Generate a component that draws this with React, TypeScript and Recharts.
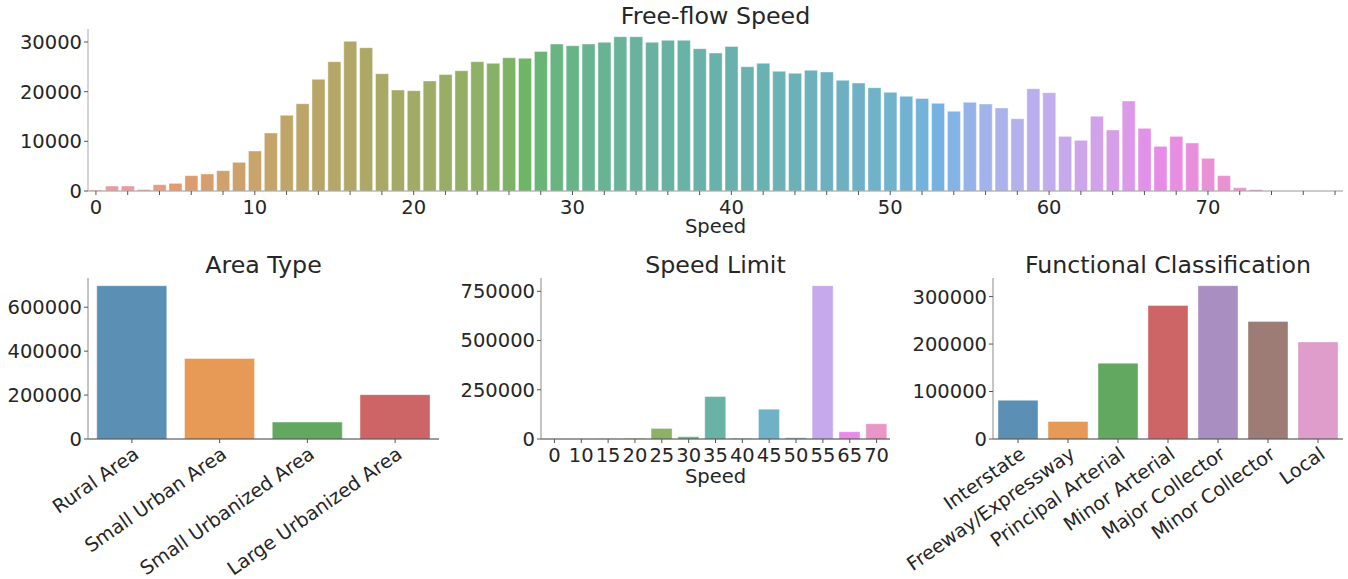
import React from 'react';
import { BarChart, Bar, XAxis, YAxis, Cell } from 'recharts';

const FONT = '"DejaVu Sans", "Liberation Sans", sans-serif';
const TEXT = '#262626';

// Free-flow speed histogram (count per speed value)
const freeFlowSpeeds = [
  0, 1, 2, 3, 4, 5, 6, 7, 8, 9, 10, 11, 12, 13, 14, 15, 16, 17, 18, 19,
  20, 21, 22, 23, 24, 25, 26, 27, 28, 29, 30, 31, 32, 33, 34, 35, 36, 37, 38, 39,
  40, 41, 42, 43, 44, 45, 46, 47, 48, 49, 50, 51, 52, 53, 54, 55, 56, 57, 58, 59,
  60, 61, 62, 63, 64, 65, 66, 67, 68, 69, 70, 71, 72, 73, 74, 75, 76, 77, 78,
];
const freeFlowCounts = [
  200, 1000, 1000, 300, 1270, 1540, 3090, 3420, 4090, 5770,
  8050, 11680, 15230, 17580, 22480, 26040, 30130, 28860, 23620, 20330,
  20200, 22150, 23450, 24220, 26040, 25700, 26840, 26710, 28110, 29590,
  29260, 29590, 29930, 31070, 31070, 29930, 30330, 30330, 28650, 27780,
  29120, 25030, 25700, 24090, 23690, 24290, 23960, 22280, 21740, 20800,
  19860, 19060, 18650, 17650, 16040, 17850, 17510, 16710, 14560, 20600,
  19790, 11000, 10200, 15030, 12280, 18120, 12620, 8990, 11000, 9660,
  6580, 3090, 670, 270, 0, 0, 0, 0, 0,
];
const freeFlowTicks = [0, 10000, 20000, 30000];

const areaTypes = ['Rural Area', 'Small Urban Area', 'Small Urbanized Area', 'Large Urbanized Area'];
const areaCounts = [698000, 366500, 76900, 202000];
const areaTicks = [0, 200000, 400000, 600000];

const speedLimits = ['0', '10', '15', '20', '25', '30', '35', '40', '45', '50', '55', '65', '70'];
const speedLimitCounts = [200, 300, 800, 3000, 53800, 11800, 215300, 3400, 151400, 6700, 778800, 37000, 77400];
const speedLimitTicks = [0, 250000, 500000, 750000];

const funcClasses = [
  'Interstate', 'Freeway/Expressway', 'Principal Arterial', 'Minor Arterial',
  'Major Collector', 'Minor Collector', 'Local',
];
const funcCounts = [81600, 37000, 159800, 281200, 323000, 247700, 204400];
const funcTicks = [0, 100000, 200000, 300000];

const TAB10 = ['#1f77b4', '#ff7f0e', '#2ca02c', '#d62728', '#9467bd', '#8c564b', '#e377c2'];

// --- colour helpers (husl palette + seaborn-style desaturation) ---
const M = [
  [3.240969941904521, -1.537383177570093, -0.498610760293],
  [-0.96924363628087, 1.87596750150772, 0.041555057407175],
  [0.055630079696993, -0.20397695888897, 1.056971514242878],
];
const KAPPA = 903.2962962;
const EPS = 0.0088564516;
const REF_U = 0.19783000664283;
const REF_V = 0.46831999493879;

function maxChroma(L: number, H: number) {
  const hrad = (H / 360) * 2 * Math.PI;
  const sub1 = Math.pow(L + 16, 3) / 1560896;
  const sub2 = sub1 > EPS ? sub1 : L / KAPPA;
  let best = Infinity;
  for (const [m1, m2, m3] of M) {
    for (const t of [0, 1]) {
      const top1 = (284517 * m1 - 94839 * m3) * sub2;
      const top2 = (838422 * m3 + 769860 * m2 + 731718 * m1) * L * sub2 - 769860 * t * L;
      const bottom = (632260 * m3 - 126452 * m2) * sub2 + 126452 * t;
      const len = top2 / bottom / (Math.sin(hrad) - (top1 / bottom) * Math.cos(hrad));
      if (len >= 0) best = Math.min(best, len);
    }
  }
  return best;
}

function fromLinear(c: number) {
  const v = c <= 0.0031308 ? 12.92 * c : 1.055 * Math.pow(c, 1 / 2.4) - 0.055;
  return Math.min(1, Math.max(0, v));
}

function huslToRgb(H: number, S: number, L: number): number[] {
  const C = (maxChroma(L, H) / 100) * S;
  const hrad = (H / 180) * Math.PI;
  const U = C * Math.cos(hrad);
  const V = C * Math.sin(hrad);
  const Y = L <= 8 ? L / KAPPA : Math.pow((L + 16) / 116, 3);
  const varU = U / (13 * L) + REF_U;
  const varV = V / (13 * L) + REF_V;
  const X = 0 - (9 * Y * varU) / ((varU - 4) * varV - varU * varV);
  const Z = (9 * Y - 15 * varV * Y - varV * X) / (3 * varV);
  return M.map((r) => fromLinear(r[0] * X + r[1] * Y + r[2] * Z));
}

function hueToRgb(m1: number, m2: number, h: number) {
  const hue = ((h % 1) + 1) % 1;
  if (hue < 1 / 6) return m1 + (m2 - m1) * hue * 6;
  if (hue < 0.5) return m2;
  if (hue < 2 / 3) return m1 + (m2 - m1) * (2 / 3 - hue) * 6;
  return m1;
}

function desaturate([r, g, b]: number[], prop: number) {
  const maxc = Math.max(r, g, b);
  const minc = Math.min(r, g, b);
  const l = (maxc + minc) / 2;
  if (maxc === minc) return [r, g, b];
  const range = maxc - minc;
  let s = l <= 0.5 ? range / (maxc + minc) : range / (2 - maxc - minc);
  const rc = (maxc - r) / range;
  const gc = (maxc - g) / range;
  const bc = (maxc - b) / range;
  let h = r === maxc ? bc - gc : g === maxc ? 2 + rc - bc : 4 + gc - rc;
  h = (((h / 6) % 1) + 1) % 1;
  s *= prop;
  const m2 = l <= 0.5 ? l * (1 + s) : l + s - l * s;
  const m1 = 2 * l - m2;
  return [hueToRgb(m1, m2, h + 1 / 3), hueToRgb(m1, m2, h), hueToRgb(m1, m2, h - 1 / 3)];
}

function toHex(rgb: number[]) {
  return '#' + rgb.map((c) => Math.round(c * 255).toString(16).padStart(2, '0')).join('');
}

function hexToRgb(hex: string) {
  return [1, 3, 5].map((i) => parseInt(hex.slice(i, i + 2), 16) / 255);
}

function huslPalette(n: number) {
  const out: string[] = [];
  for (let i = 0; i < n; i++) {
    const h = ((i / n + 0.01) % 1) * 359;
    out.push(toHex(desaturate(huslToRgb(h, 0.9 * 99, 0.65 * 99), 0.75)));
  }
  return out;
}

const tabPalette = TAB10.map((c) => toHex(desaturate(hexToRgb(c), 0.75)));

const freeFlowData = freeFlowSpeeds.map((s, i) => ({ speed: s, count: freeFlowCounts[i] }));
const areaData = areaTypes.map((a, i) => ({ name: a, count: areaCounts[i] }));
const speedLimitData = speedLimits.map((s, i) => ({ name: s, count: speedLimitCounts[i] }));
const funcData = funcClasses.map((f, i) => ({ name: f, count: funcCounts[i] }));

const tickFont = { fontSize: 19.5, fill: TEXT, fontFamily: FONT };

function FreeFlowTick(props: any) {
  const { x, y, payload } = props;
  const v = Number(payload.value);
  if (v % 2 !== 0) return <g />;
  return (
    <g>
      <line x1={x} x2={x} y1={y - 9} y2={y - 5} stroke="#555" strokeWidth={1} />
      {v % 10 === 0 && (
        <text x={x} y={y} dy="0.71em" textAnchor="middle" {...tickFont}>
          {v}
        </text>
      )}
    </g>
  );
}

function RotatedTick(props: any) {
  const { x, y, payload } = props;
  return (
    <text
      x={x}
      y={y}
      dy="0.76em"
      textAnchor="end"
      transform={`rotate(-35, ${x}, ${y})`}
      {...tickFont}
      fontSize={19.2}
    >
      {payload.value}
    </text>
  );
}

function cellsFor(n: number, colors: string[]) {
  return Array.from({ length: n }, (_, i) => (
    <Cell key={i} fill={colors[i]} fillOpacity={0.8} stroke="#ffffff" strokeOpacity={0.5} strokeWidth={0.8} />
  ));
}

function SmallChart(props: {
  left: number;
  width: number;
  yWidth: number;
  data: any[];
  colors: string[];
  yMax: number;
  ticks: number[];
  rotated: boolean;
  xLabel?: string;
}) {
  const { left, width, yWidth, data, colors, yMax, ticks, rotated, xLabel } = props;
  return (
    <div style={{ position: 'absolute', left, top: 260 }}>
      <BarChart
        width={width}
        height={330}
        data={data}
        margin={{ top: 18, right: 5, left: 0, bottom: 0 }}
        barCategoryGap="10%"
        style={{ overflow: 'visible' }}
      >
        <XAxis
          dataKey="name"
          interval={0}
          height={151}
          tickSize={4}
          tickMargin={rotated ? 2 : 5}
          axisLine={{ stroke: '#3a3a3a' }}
          tickLine={{ stroke: '#555' }}
          tick={rotated ? <RotatedTick /> : tickFont}
          label={
            xLabel
              ? { value: xLabel, position: 'insideBottom', offset: 107, fontSize: 19.5, fill: TEXT, fontFamily: FONT }
              : undefined
          }
        />
        <YAxis
          width={yWidth}
          domain={[0, yMax]}
          ticks={ticks}
          interval={0}
          tickSize={4}
          tickMargin={2}
          axisLine={{ stroke: '#8a8a8a' }}
          tickLine={{ stroke: '#555' }}
          tick={tickFont}
          allowDataOverflow
        />
        <Bar dataKey="count" isAnimationActive={false}>
          {cellsFor(data.length, colors)}
        </Bar>
      </BarChart>
    </div>
  );
}

export default function App() {
  const freeColors = huslPalette(freeFlowData.length);
  const limitColors = huslPalette(speedLimitData.length);
  return (
    <div style={{ position: 'absolute', left: 0, top: 0, width: 1348, height: 579, background: '#fff', fontFamily: FONT, overflow: 'hidden' }}>
      <div style={{ position: 'absolute', left: 0, top: 0 }}>
        <BarChart
          width={1348}
          height={240}
          data={freeFlowData}
          margin={{ top: 29, right: 5, left: 0, bottom: 0 }}
          barCategoryGap="10%"
        >
          <XAxis
            dataKey="speed"
            interval={0}
            height={49}
            tickSize={4}
            tickMargin={5}
            tickLine={false}
            axisLine={{ stroke: '#999' }}
            tick={<FreeFlowTick />}
            label={{ value: 'Speed', position: 'insideBottom', offset: 7, fontSize: 19.5, fill: TEXT, fontFamily: FONT }}
          />
          <YAxis
            width={88}
            domain={[0, 32620]}
            ticks={freeFlowTicks}
            interval={0}
            tickSize={4}
            tickMargin={2}
            axisLine={{ stroke: '#aaa' }}
            tickLine={{ stroke: '#555' }}
            tick={tickFont}
          />
          <Bar dataKey="count" isAnimationActive={false}>
            {cellsFor(freeFlowData.length, freeColors)}
          </Bar>
        </BarChart>
      </div>

      <SmallChart left={0} width={444} yWidth={88} data={areaData} colors={tabPalette} yMax={733000} ticks={areaTicks} rotated />
      <SmallChart
        left={451}
        width={444}
        yWidth={90}
        data={speedLimitData}
        colors={limitColors}
        yMax={817700}
        ticks={speedLimitTicks}
        rotated={false}
        xLabel="Speed"
      />
      <SmallChart left={880} width={468} yWidth={113} data={funcData} colors={tabPalette} yMax={339150} ticks={funcTicks} rotated />

      <svg width={1348} height={579} style={{ position: 'absolute', left: 0, top: 0, pointerEvents: 'none' }}>
        <g fontFamily={FONT} fontSize={23.7} fill={TEXT} textAnchor="middle">
          <text x={715.5} y={24}>Free-flow Speed</text>
          <text x={263.5} y={273}>Area Type</text>
          <text x={715.5} y={273}>Speed Limit</text>
          <text x={1168} y={273}>Functional Classification</text>
        </g>
      </svg>
    </div>
  );
}
